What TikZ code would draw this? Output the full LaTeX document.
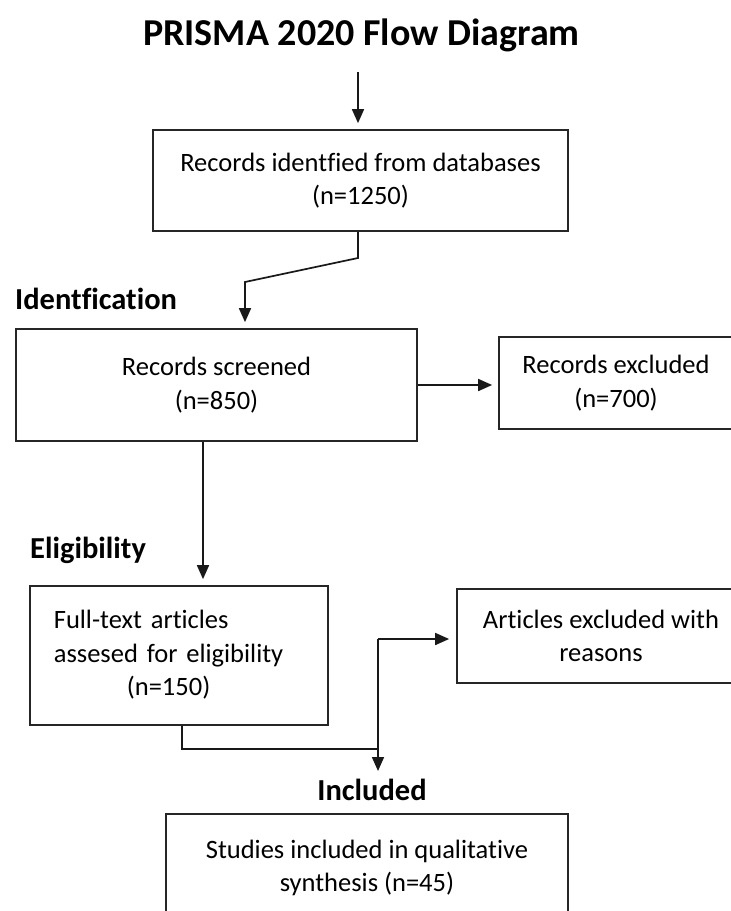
\documentclass[tikz,border=0pt]{standalone}
\usepackage{fontspec}
\setmainfont{Carlito}[Ligatures=CommonOff]
\usetikzlibrary{arrows.meta}

\newlength{\du}
\setlength{\du}{1pt}

\tikzset{
  stagebox/.style={draw=black!85, line width=1.7\du, inner sep=0pt, align=center,
    text=black, font=\fontsize{26.5}{33.5}\selectfont},
  stagelabel/.style={inner sep=0pt, anchor=base west, text=black,
    font=\bfseries\fontsize{30.5}{36}\selectfont},
  flowline/.style={draw=black!90, line width=1.7\du},
  flowarrow/.style={flowline, -{Triangle[length=14pt,width=12pt]}},
}

\begin{document}
\begin{tikzpicture}
\pgftransformyscale{-1.000000}
\useasboundingbox (0\du,0\du) rectangle (731\du,911\du);
% title
\node[inner sep=0pt, anchor=base, text=black, font=\bfseries\fontsize{38}{44}\selectfont] (title) at (361.5\du,45\du){PRISMA 2020 Flow Diagram};
% stage labels
\node[stagelabel] (ident) at (15\du,309\du){Identfication};
\node[stagelabel] (elig) at (30\du,558\du){Eligibility};
\node[stagelabel, anchor=base] (incd) at (372\du,800\du){Included};
% boxes
\node[stagebox, minimum width=415\du, minimum height=101\du] (records) at (360.5\du,180.5\du){Records identfied from databases\\(n=1250)};
\node[stagebox, minimum width=401\du, minimum height=112\du] (screened) at (216.5\du,385\du){Records screened\\(n=850)};
\node[stagebox, minimum width=234\du, minimum height=92\du] (excluded) at (616\du,383\du){Records excluded\\(n=700)};
\node[stagebox, anchor=west, text width=250\du, inner xsep=24\du, minimum height=139\du, align=left] (fulltext) at (29\du,655.5\du){\begin{tabular}{@{}l@{}}Full-text articles\\assesed for eligibility\\\multicolumn{1}{@{}c@{}}{(n=150)}\end{tabular}};
\node[stagebox, minimum width=288\du, minimum height=94\du] (artexcl) at (601\du,636\du){Articles excluded with\\reasons};
\node[stagebox, minimum width=402\du, minimum height=108\du] (studies) at (367\du,868\du){Studies included in qualitative\\synthesis (n=45)};
% connectors
\coordinate (start) at (358\du,72\du);
\coordinate (kneeA) at (358\du,258\du);
\coordinate (kneeB) at (245\du,282\du);
\coordinate (dropA) at (203\du,500\du);
\coordinate (kneeC) at (182\du,749\du);
\coordinate (split) at (378\du,639\du);
\coordinate (incl) at (378\du,771\du);
\draw[flowarrow, shorten >=6pt] (start) -- (start |- records.north);
\draw[flowarrow, shorten >=6pt] (records.south -| kneeA) -- (kneeA) -- (kneeB) -- (kneeB |- screened.north);
\draw[flowarrow, shorten >=6pt] (screened.east) -- (screened.east -| excluded.west);
\draw[flowarrow, shorten >=6pt] (screened.south -| dropA) -- (dropA |- fulltext.north);
\draw[flowline] (fulltext.south -| kneeC) -- (kneeC) -- (kneeC -| split);
\draw[flowarrow] (split) -- (incl);
\draw[flowarrow, shorten >=7pt] (split) -- (split -| artexcl.west);
\end{tikzpicture}
\end{document}
